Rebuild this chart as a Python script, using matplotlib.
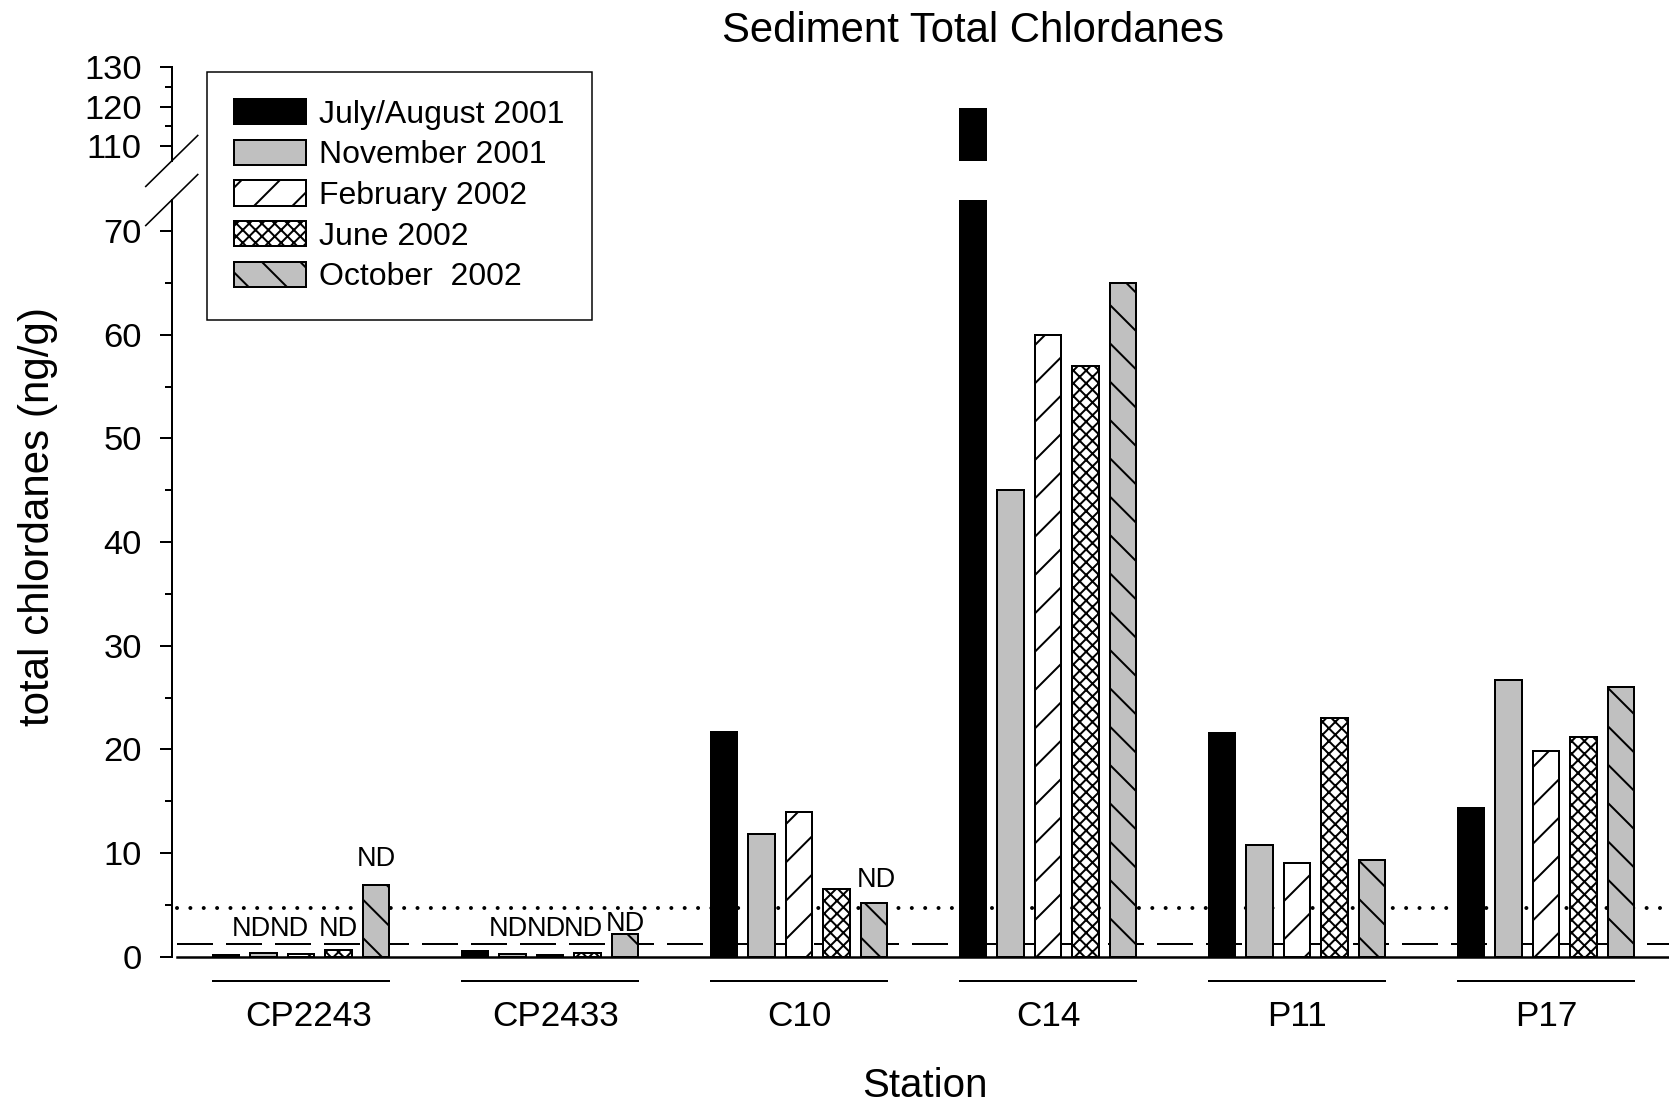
import numpy as np
import matplotlib.pyplot as plt
from matplotlib.ticker import MultipleLocator
from matplotlib.transforms import ScaledTranslation

# stations and sampling surveys
stations = ['CP2243', 'CP2433', 'C10', 'C14', 'P11', 'P17']
surveys = ['July/August 2001', 'November 2001', 'February 2002',
           'June 2002', 'October  2002']

# total chlordanes, ng/g
jul_aug_2001 = [0.16, 0.55, 21.7, 119.4, 21.6, 14.3]
nov_2001 = [0.39, 0.26, 11.8, 45.0, 10.8, 26.7]
feb_2002 = [0.29, 0.16, 14.0, 60.0, 9.0, 19.8]
jun_2002 = [0.64, 0.39, 6.5, 57.0, 23.0, 21.2]
oct_2002 = [6.9, 2.2, 5.2, 65.0, 9.3, 26.0]

# reference levels
dotted_level = 4.67
dashed_level = 1.22

# "ND" flags: (station index, survey index, label height, shift in px)
nd_labels = [(0, 1, 2.0, -12), (0, 2, 2.0, -12), (0, 3, 2.0, 0),
             (0, 4, 8.75, 0), (1, 1, 2.0, -4), (1, 2, 2.0, -4),
             (1, 3, 2.0, -4), (1, 4, 2.48, 0), (2, 4, 6.69, 2)]

# small sideways nudges of the station names, px
label_shift = [8, 6, 0, 0, 0, 0]

DPI = 230
PX = 72 / DPI  # points per pixel

plt.rcParams['font.family'] = ['Liberation Sans', 'DejaVu Sans']
plt.rcParams['hatch.linewidth'] = 2 * PX

fig = plt.figure(figsize=(1669 / DPI, 1110 / DPI), dpi=DPI)
ax_hi = fig.add_axes([0.1029, 0.8550, 0.8971, 0.0843])
ax_lo = fig.add_axes([0.1029, 0.1381, 0.8971, 0.6817])

series = [jul_aug_2001, nov_2001, feb_2002, jun_2002, oct_2002]
faces = ['black', '#c0c0c0', 'white', 'white', '#c0c0c0']
hatches = [None, None, '//', 'x' * 6, '\\\\']

x = np.arange(len(stations))
width = 0.108
step = 0.1506

handles = []
for j, vals in enumerate(series):
    pos = x + (j - 2) * step
    for ax in (ax_hi, ax_lo):
        b = ax.bar(pos, vals, width, color=faces[j], edgecolor='black',
                   hatch=hatches[j], linewidth=2 * PX, zorder=2)
    handles.append(b)

for ax in (ax_hi, ax_lo):
    ax.set_xlim(-0.519, 5.494)
    for side in ('top', 'right', 'bottom'):
        ax.spines[side].set_visible(False)
    ax.spines['left'].set_linewidth(2 * PX)
    ax.yaxis.set_major_locator(MultipleLocator(10))
    ax.yaxis.set_minor_locator(MultipleLocator(5))
    ax.tick_params(axis='y', which='major', length=12 * PX, width=2 * PX,
                   pad=5.6, labelsize=10.8)
    ax.tick_params(axis='y', which='minor', length=7 * PX, width=2 * PX)

ax_lo.set_ylim(0, 73)
ax_hi.set_ylim(106.2, 130)
ax_hi.set_xticks([])

ax_lo.set_xticks(x, stations)
ax_lo.tick_params(axis='x', length=0, pad=13.4, labelsize=11)
for lab, s in zip(ax_lo.get_xticklabels(), label_shift):
    lab.set_transform(lab.get_transform()
                      + ScaledTranslation(s / DPI, 0, fig.dpi_scale_trans))

xmin = 5 / 1497
ax_lo.axhline(0, xmin=xmin, color='black', lw=2.5 * PX, zorder=3, clip_on=False)
ax_lo.axhline(dotted_level, xmin=xmin, color='black', lw=4 * PX,
              linestyle=(0, (0.01, 3.33)), dash_capstyle='round', zorder=1)
ax_lo.axhline(dashed_level, xmin=xmin, color='black', lw=2 * PX,
              linestyle=(0, (18, 6.5)), zorder=1)

# station underlines
half = 2 * step + width / 2
for i in x:
    ax_lo.plot([i - half, i + half], [-2.31, -2.31], color='black',
               lw=2 * PX, clip_on=False)

# ND labels
for si, sj, yv, dx in nd_labels:
    ax_lo.annotate('ND', (x[si] + (sj - 2) * step, yv), xytext=(dx * PX, 0),
                   textcoords='offset points', ha='center', va='baseline',
                   fontsize=8.5)

# axis break marks
dx = 26 / 1497.3
ax_hi.plot([-dx, dx], [-25.5 / 93.6, 25.5 / 93.6], transform=ax_hi.transAxes,
           color='black', lw=1.6 * PX, clip_on=False)
ax_lo.plot([-dx, dx], [1 - 25.5 / 756.7, 1 + 25.5 / 756.7],
           transform=ax_lo.transAxes, color='black', lw=1.6 * PX, clip_on=False)

fig.text(973 / 1669, 1 - 42 / 1110, 'Sediment Total Chlordanes',
         ha='center', va='baseline', fontsize=13.1)
fig.text(38 / 1669, 1 - 516 / 1110, 'total chlordanes (ng/g)', rotation=90,
         ha='center', va='center', fontsize=13.2)
fig.text(925 / 1669, 1 - 1097 / 1110, 'Station', ha='center', va='baseline',
         fontsize=12.6)

leg = fig.legend(handles, surveys, loc='upper left',
                 bbox_to_anchor=(207.3 / 1669, 1 - 71.7 / 1110),
                 borderaxespad=0, fontsize=10.0, frameon=True, fancybox=False,
                 edgecolor='black', framealpha=1, handlelength=2.24,
                 handleheight=0.85, handletextpad=0.42, labelspacing=0.31,
                 borderpad=0.85)
leg.get_frame().set_linewidth(1.5 * PX)

fig.savefig('out.png', dpi=DPI)
